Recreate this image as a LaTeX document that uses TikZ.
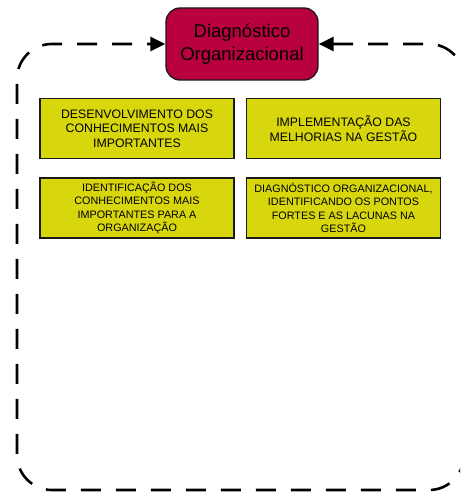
\documentclass[tikz,border=0pt]{standalone}
\usepackage{fontspec}
\setmainfont{Liberation Sans}
\usetikzlibrary{arrows.meta}
\definecolor{diagred}{HTML}{B8003E}
\definecolor{stepyellow}{HTML}{D8D70E}
\definecolor{edgegray}{HTML}{1A1A1A}
\tikzset{
  headbox/.style={draw=edgegray, line width=1.3pt, fill=diagred, rounded corners=14pt,
    minimum width=152pt, minimum height=72pt, align=center, inner sep=0pt,
    font=\fontsize{18.5}{23}\selectfont},
  stagebox/.style={draw=edgegray, line width=1.5pt, fill=stepyellow,
    minimum width=194pt, minimum height=60pt, align=center, inner sep=0pt},
  bigtext/.style={font=\fontsize{12.3}{14.5}\selectfont},
  smalltext/.style={font=\fontsize{10.8}{13.3}\selectfont},
  loop/.style={line width=2.6pt, dash pattern=on 20pt off 15pt,
    {Triangle[length=15pt,width=14pt]}-{Triangle[length=15pt,width=14pt]}}
}
\begin{document}
\begin{tikzpicture}[x=1pt,y=-1pt]
  \clip (0,0) rectangle (460,492);
  \fill[white] (0,0) rectangle (460,492);

  % central node
  \node[headbox] (diag) at (242,44) {Diagnóstico\\Organizacional};

  % the four stages
  \node[stagebox, bigtext] (dev) at (137,128.5)
    {DESENVOLVIMENTO DOS\\CONHECIMENTOS MAIS\\IMPORTANTES};
  \node[stagebox, bigtext] (impl) at (343.5,128.5)
    {IMPLEMENTAÇÃO DAS\\MELHORIAS NA GESTÃO};
  \node[stagebox, smalltext] (ident) at (137,208)
    {IDENTIFICAÇÃO DOS\\CONHECIMENTOS MAIS\\IMPORTANTES PARA A\\ORGANIZAÇÃO};
  \node[stagebox, smalltext] (diagorg) at (343.5,208)
    {DIAGNÓSTICO ORGANIZACIONAL,\\IDENTIFICANDO OS PONTOS\\FORTES E AS LACUNAS NA\\GESTÃO};

  % dashed cycle that returns to the central node from both sides
  \coordinate (tr) at (464,44);
  \coordinate (br) at (464,490);
  \coordinate (bl) at (17,490);
  \coordinate (tl) at (17,44);
  \draw[loop, rounded corners=35pt]
    (diag.east) -- (tr) -- (br) -- (bl) -- (tl) -- (diag.west);
\end{tikzpicture}
\end{document}
